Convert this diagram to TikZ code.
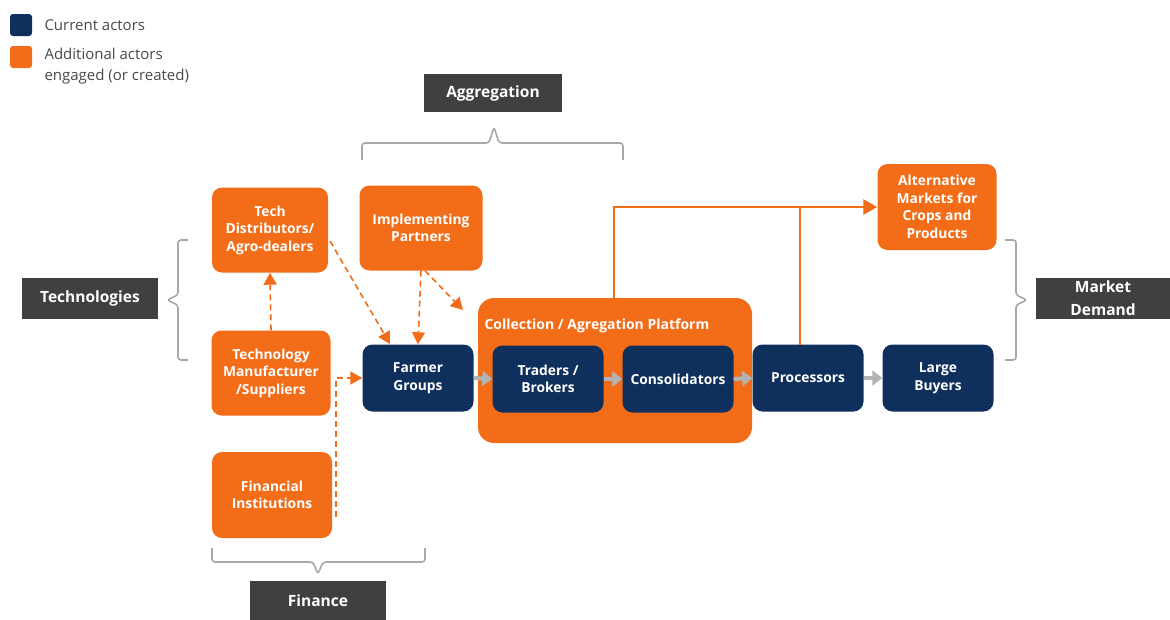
\documentclass[tikz,border=0pt]{standalone}
\usepackage{fontspec}
\setmainfont{Open Sans}
\usetikzlibrary{arrows.meta}

\definecolor{chainorange}{RGB}{243,108,24}
\definecolor{chainnavy}{RGB}{15,47,92}
\definecolor{labelgray}{RGB}{64,64,66}
\definecolor{bracegray}{RGB}{168,168,168}
\definecolor{flowgray}{RGB}{178,180,182}
\definecolor{legendtext}{RGB}{72,72,72}

\tikzset{
  actor/.style={rounded corners=10pt, minimum width=118pt, minimum height=86pt,
    align=center, text=white, font=\bfseries\fontsize{13.8}{17.5}\selectfont, inner sep=2pt},
  newactor/.style={actor, fill=chainorange},
  oldactor/.style={actor, fill=chainnavy, minimum width=111pt, minimum height=67pt},
  tag/.style={fill=labelgray, text=white, align=center, inner sep=2pt,
    font=\bfseries\fontsize{15.5}{24}\selectfont},
  brace/.style={draw=bracegray, line width=1.6pt, rounded corners=3pt},
  link/.style={draw=chainorange, line width=1.6pt, dashed, dash pattern=on 6pt off 4pt,
    -{Triangle[length=12pt,width=13pt]}},
  feed/.style={draw=chainorange, line width=2.6pt, -{Triangle[length=14pt,width=15pt]}},
  flow/.style={draw=flowgray, line width=4pt, -{Triangle[length=10pt,width=15pt]}}
}

\begin{document}
\begin{tikzpicture}[x=1pt, y=-1pt]
\useasboundingbox (0,0) rectangle (1170,619);

% legend
\fill[chainnavy, rounded corners=3pt] (10,14) rectangle (32,36);
\fill[chainorange, rounded corners=3pt] (10,46) rectangle (32,68);
\node[anchor=west, text=legendtext, font=\fontsize{15}{21}\selectfont] (curleg) at (41,25) {Current actors};
\node[anchor=north west, text=legendtext, align=left, font=\fontsize{15}{21}\selectfont] (addleg) at (41,45)
  {Additional actors\\engaged (or created)};

% category tags
\node[tag, minimum width=138pt, minimum height=38pt] (aggr) at (493,93) {Aggregation};
\node[tag, minimum width=136pt, minimum height=41pt] (techs) at (90,298) {Technologies};
\node[tag, minimum width=136pt, minimum height=40pt] (fin) at (318,601) {Finance};
\node[tag, minimum width=134pt, minimum height=41pt, font=\bfseries\fontsize{15.5}{23}\selectfont] (mkt) at (1103,298) {Market\\Demand};

% braces
\draw[brace] (362,160) -- (362,143) -- (489,143) -- (494,127) -- (499,143) -- (623,143) -- (623,160);
\draw[brace] (188,240) -- (178,240) -- (178,295) -- (167,300) -- (178,305) -- (178,360) -- (188,360);
\draw[brace] (212,548) -- (212,562) -- (313,562) -- (318,574) -- (323,562) -- (425,562) -- (425,548);
\draw[brace] (1005,240) -- (1016,240) -- (1016,295) -- (1027,300) -- (1016,305) -- (1016,360) -- (1005,360);

% platform
\node[fill=chainorange, rounded corners=16pt, minimum width=274pt, minimum height=145pt] (plat) at (615,370.5) {};
\node[anchor=west, text=white, font=\bfseries\fontsize{14}{16}\selectfont] (platlbl) at (481,326) {Collection / Agregation Platform};

% additional actors
\node[newactor, minimum width=116pt, minimum height=85pt] (dist) at (270,230) {Tech\\Distributors/\\Agro-dealers};
\node[newactor, minimum width=123pt, minimum height=85pt] (impl) at (421,228) {Implementing\\Partners};
\node[newactor, minimum width=119pt, minimum height=85pt] (manu) at (271,373) {Technology\\Manufacturer\\/Suppliers};
\node[newactor, minimum width=120pt, minimum height=86pt] (bank) at (272,495) {Financial\\Institutions};
\node[newactor, minimum width=119pt, minimum height=86pt] (alt) at (937,207) {Alternative\\Markets for\\Crops and\\Products};

% current actors
\node[oldactor] (farm) at (418,378) {Farmer\\Groups};
\node[oldactor] (trade) at (548,379) {Traders /\\Brokers};
\node[oldactor] (cons) at (678,379) {Consolidators};
\node[oldactor] (proc) at (808,378) {Processors};
\node[oldactor] (buy) at (938,378) {Large\\Buyers};

% value chain flow
\draw[flow] (farm.east) -- (trade.west);
\draw[flow] (trade.east) -- (cons.west);
\draw[flow] (cons.east) -- (proc.west);
\draw[flow] (proc.east) -- (buy.west);

% outlets to alternative markets
\coordinate (platup) at (614,298);
\coordinate (procup) at (800,345);
\draw[feed] (platup) |- (alt.west);
\draw[chainorange, line width=2.6pt] (procup) -- (800,208);

% support links
\coordinate (distout) at (330,241);
\coordinate (bankline) at (336,517);
\coordinate (impltip) at (463,310);
\draw[link] (manu.north) -- (dist.south);
\draw[link] (distout) -- (390,344);
\draw[link] (impl.south) -- (farm.north);
\draw[link] ([xshift=4pt]impl.south) -- (impltip);
\draw[link] (bankline) |- (farm.west);
\end{tikzpicture}
\end{document}
